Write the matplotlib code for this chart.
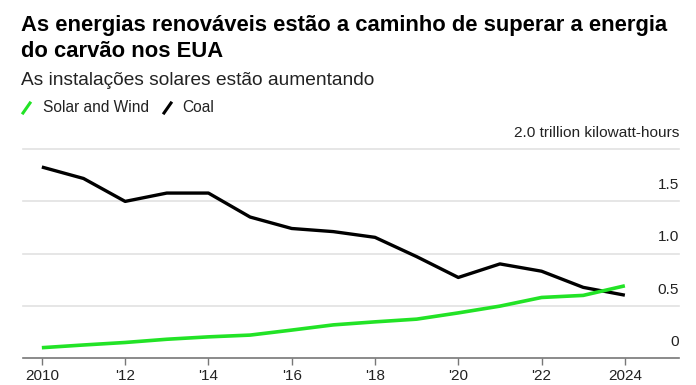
import matplotlib
matplotlib.use("Agg")
import matplotlib.pyplot as plt
from matplotlib.lines import Line2D
from matplotlib.transforms import blended_transform_factory

plt.rcParams["font.family"] = ["Liberation Sans", "DejaVu Sans"]

years = list(range(2010, 2025))
coal = [1.83, 1.72, 1.50, 1.58, 1.58, 1.35, 1.24, 1.21, 1.155, 0.97, 0.77, 0.90, 0.83, 0.675, 0.60]
solar_wind = [0.096, 0.122, 0.146, 0.177, 0.200, 0.217, 0.265, 0.315, 0.344, 0.370, 0.430, 0.495, 0.578, 0.598, 0.690]

x_ticks = [2010, 2012, 2014, 2016, 2018, 2020, 2022, 2024]
x_labels = ["2010", "'12", "'14", "'16", "'18", "'20", "'22", "2024"]
y_ticks = [0, 0.5, 1.0, 1.5, 2.0]
y_labels = ["0", "0.5", "1.0", "1.5", "2.0 trillion kilowatt-hours"]

GREEN = "#22e326"
GRID = "#e2e2e2"
AXIS = "#777777"
TEXT = "#222222"

W, H = 696, 385
fig = plt.figure(figsize=(W / 100, H / 100), dpi=100)
ax = fig.add_axes([22.7 / W, 1 - 357.7 / H, (679 - 22.7) / W, (357.7 - 149.3) / H])

ax.plot(years, coal, color="black", linewidth=2.4, solid_capstyle="butt", zorder=3)
ax.plot(years, solar_wind, color=GREEN, linewidth=2.6, solid_capstyle="butt", zorder=4)

ax.set_xlim(2009.54, 2025.3)
ax.set_ylim(0, 2.0)

for y in y_ticks[1:]:
    ax.axhline(y, color=GRID, linewidth=1.2, zorder=1, clip_on=False)

trans = blended_transform_factory(ax.transAxes, ax.transData)
for y, lab in zip(y_ticks, y_labels):
    ax.annotate(lab, xy=(1.0, y), xycoords=trans, xytext=(0, 6.5),
                textcoords="offset points", ha="right", va="bottom",
                fontsize=11.1, color=TEXT)

for s in ["top", "right", "left"]:
    ax.spines[s].set_visible(False)
ax.spines["bottom"].set_color(AXIS)
ax.spines["bottom"].set_linewidth(1.2)
ax.set_yticks([])
ax.set_xticks(x_ticks)
ax.set_xticklabels(x_labels)
ax.tick_params(axis="x", length=5, width=1, color=AXIS, pad=3,
               labelsize=11, labelcolor=TEXT)

# title, subtitle
fig.text(21 / W, 1 - 15 / H, "As energias renováveis estão a caminho de superar a energia\ndo carvão nos EUA",
         ha="left", va="top", fontsize=15.8, fontweight="bold", linespacing=1.3, color="black")
fig.text(21 / W, 1 - 72 / H, "As instalações solares estão aumentando",
         ha="left", va="top", fontsize=13.8, color=TEXT)

# legend
fig.add_artist(Line2D([23 / W, 30 / W], [1 - 113 / H, 1 - 103 / H], color=GREEN, linewidth=2.2))
fig.text(43 / W, 1 - 108 / H, "Solar and Wind", ha="left", va="center", fontsize=11.2, color=TEXT)
fig.add_artist(Line2D([164 / W, 171 / W], [1 - 113 / H, 1 - 103 / H], color="black", linewidth=2.2))
fig.text(182 / W, 1 - 108 / H, "Coal", ha="left", va="center", fontsize=11.2, color=TEXT)

fig.savefig("out.png", dpi=100)
